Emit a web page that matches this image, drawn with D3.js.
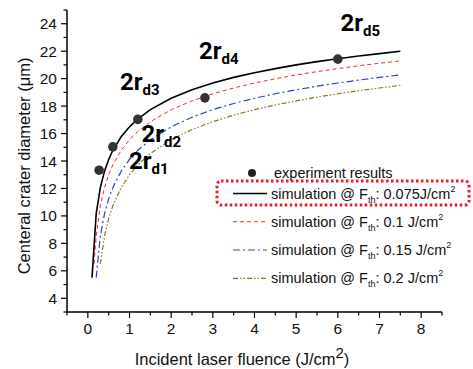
<!DOCTYPE html>
<html>
<head>
  <style>
    body{ margin:0; background:#fff; }
    svg text{ font-family: "Liberation Sans", Arial, sans-serif; fill:#111; }
    .tick-label{ font-size:15.5px; }
    .axis-title{ font-size:16.5px; }
    .legend-text{ font-size:14.5px; }
    svg text.anno{ font-family: Roboto, "Liberation Sans", sans-serif; font-weight:bold; fill:#000; }
  </style>
  <script src="https://d3js.org/d3.v7.min.js"></script>
</head>
<body>
<div class="chart"></div>
<script>
// experiment results
const expX = [0.27, 0.6, 1.2, 2.81, 6.0];
const expY = [13.33, 15.03, 17.03, 18.6, 21.42];

// simulated curves
const simX = [0.1, 0.15, 0.2, 0.3, 0.4, 0.5, 0.6, 0.8, 1.0, 1.2, 1.5, 2.0, 2.5, 3.0, 3.5, 4.0, 4.5, 5.0, 5.5, 6.0, 6.5, 7.0, 7.5];
const sim075 = [5.50, null, 10.15, 12.06, 13.26, 14.11, 14.78, 15.76, 16.49, 17.06, 17.74, 18.57, 19.19, 19.68, 20.09, 20.43, 20.73, 21.00, 21.24, 21.45, 21.65, 21.82, 21.99];
const sim10  = [null, 6.52, 8.53, 10.74, 12.06, 13.00, 13.72, 14.78, 15.55, 16.15, 16.86, 17.74, 18.38, 18.90, 19.32, 19.68, 19.99, 20.27, 20.51, 20.73, 20.94, 21.12, 21.29];
const sim15  = [null, null, 5.50, 8.53, 10.15, 11.24, 12.06, 13.26, 14.11, 14.78, 15.55, 16.49, 17.19, 17.74, 18.19, 18.57, 18.90, 19.19, 19.45, 19.68, 19.89, 20.09, 20.27];
const sim20  = [null, null, null, 6.52, 8.53, 9.81, 10.74, 12.06, 13.00, 13.72, 14.55, 15.55, 16.29, 16.86, 17.34, 17.74, 18.08, 18.38, 18.65, 18.90, 19.12, 19.32, 19.51];

const xTicks = [0, 1, 2, 3, 4, 5, 6, 7, 8];
const yTicks = [4, 6, 8, 10, 12, 14, 16, 18, 20, 22, 24];

const seriesNames = ['0.075J/cm', '0.1 J/cm', '0.15 J/cm', '0.2 J/cm'];
const annoLabels = ['d1', 'd2', 'd3', 'd4', 'd5'];

const width = 473, height = 369;
const svg = d3.select('.chart').append('svg')
  .attr('width', width).attr('height', height);

const x = d3.scaleLinear().domain([-0.5, 8.5]).range([67, 442]);
const y = d3.scaleLinear().domain([3, 25]).range([312, 10]);

// axes
const xAxis = svg.append('g').attr('transform', 'translate(0,312)');
xAxis.append('line').attr('x1', x(-0.5)).attr('x2', x(8.5)).attr('stroke', '#000').attr('stroke-width', 1.5);
xAxis.selectAll('.maj').data(xTicks).join('line')
  .attr('x1', d => x(d)).attr('x2', d => x(d)).attr('y1', 0).attr('y2', 6)
  .attr('stroke', '#000').attr('stroke-width', 1.2);
xAxis.selectAll('.min').data(d3.range(-0.5, 8.6, 1)).join('line')
  .attr('x1', d => x(d)).attr('x2', d => x(d)).attr('y1', 0).attr('y2', 3.5)
  .attr('stroke', '#000').attr('stroke-width', 1.2);
xAxis.selectAll('text').data(xTicks).join('text')
  .attr('class', 'tick-label').attr('x', d => x(d)).attr('y', 22)
  .attr('text-anchor', 'middle').text(d => d);

const yAxis = svg.append('g').attr('transform', 'translate(67,0)');
yAxis.append('line').attr('y1', y(3)).attr('y2', y(25)).attr('stroke', '#000').attr('stroke-width', 1.5);
yAxis.selectAll('.maj').data(yTicks).join('line')
  .attr('y1', d => y(d)).attr('y2', d => y(d)).attr('x1', 0).attr('x2', -6)
  .attr('stroke', '#000').attr('stroke-width', 1.2);
yAxis.selectAll('.min').data(d3.range(3, 25.1, 2)).join('line')
  .attr('y1', d => y(d)).attr('y2', d => y(d)).attr('x1', 0).attr('x2', -3.5)
  .attr('stroke', '#000').attr('stroke-width', 1.2);
yAxis.selectAll('text').data(yTicks).join('text')
  .attr('class', 'tick-label').attr('x', -10).attr('y', d => y(d) + 5.5)
  .attr('text-anchor', 'end').text(d => d);

// axis titles
const xt = svg.append('text').attr('class', 'axis-title')
  .attr('x', 242).attr('y', 365).attr('text-anchor', 'middle').attr('font-size', 17.5);
xt.append('tspan').text('Incident laser fluence (J/cm');
xt.append('tspan').attr('dy', -7).attr('font-size', 15).text('2');
xt.append('tspan').attr('dy', 7).text(')');

svg.append('text').attr('class', 'axis-title')
  .attr('transform', 'translate(30,166) rotate(-90)')
  .attr('text-anchor', 'middle')
  .text('Centeral crater diameter (\u03bcm)');

// curves
const styles = [
  { color: '#000000', dash: null, w: 1.6 },
  { color: '#ee2a2a', dash: '4,3', w: 1 },
  { color: '#2448c0', dash: '7,3,2,3', w: 1.2 },
  { color: '#7d7d22', dash: '5,2,1.5,2,1.5,2', w: 1.2 }
];
const sims = [sim075, sim10, sim15, sim20];
const line = d3.line().x(d => x(d[0])).y(d => y(d[1]));
[3, 2, 1, 0].forEach(i => {
  svg.append('path')
    .datum(simX.map((v, j) => [v, sims[i][j]]).filter(d => d[1] != null))
    .attr('d', line)
    .attr('fill', 'none')
    .attr('stroke', styles[i].color)
    .attr('stroke-width', styles[i].w)
    .attr('stroke-dasharray', styles[i].dash);
});

// experiment points
svg.selectAll('.pt').data(expX).join('circle')
  .attr('cx', d => x(d)).attr('cy', (d, i) => y(expY[i]))
  .attr('r', 4.8).attr('fill', '#333');

// annotations 2r_dN
const annoPos = [[129, 169], [141.5, 141.5], [120, 90], [199, 59], [340.5, 30.7]];
annoLabels.forEach((lab, i) => {
  const t = svg.append('text').attr('class', 'anno')
    .attr('x', annoPos[i][0]).attr('y', annoPos[i][1]).attr('font-size', 24);
  t.append('tspan').text('2r');
  t.append('tspan').attr('dy', 5).attr('font-size', 15).text(lab);
});

// legend
const lg = svg.append('g');
lg.append('circle').attr('cx', 252).attr('cy', 173).attr('r', 4).attr('fill', '#222');
lg.append('text').attr('class', 'legend-text').attr('x', 274).attr('y', 178).text('experiment results');
const legY = [193.5, 221.7, 250, 278.3];
seriesNames.forEach((s, i) => {
  lg.append('line').attr('x1', 233).attr('x2', 267).attr('y1', legY[i]).attr('y2', legY[i])
    .attr('stroke', styles[i].color).attr('stroke-width', styles[i].w)
    .attr('stroke-dasharray', styles[i].dash);
  const t = lg.append('text').attr('class', 'legend-text').attr('x', 271).attr('y', legY[i] + 5);
  t.append('tspan').text('simulation @ F');
  t.append('tspan').attr('dy', 4).attr('font-size', 9).text('th');
  t.append('tspan').attr('dy', -4).text(': ' + s);
  t.append('tspan').attr('dy', -7).attr('font-size', 9).text('2');
});

// highlight box
lg.append('rect').attr('x', 217).attr('y', 181).attr('width', 252).attr('height', 24)
  .attr('rx', 4).attr('fill', 'none').attr('stroke', '#ee1c24')
  .attr('stroke-width', 3).attr('stroke-dasharray', '2.5,2.5');
</script>
</body>
</html>
